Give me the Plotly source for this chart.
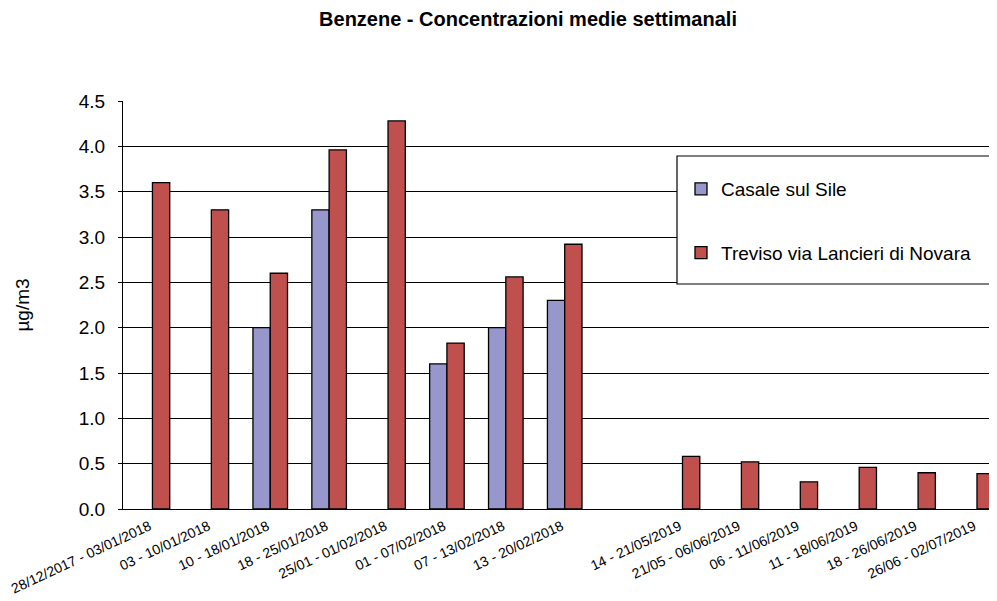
import plotly.graph_objects as go

categories = [
    "28/12/2017 - 03/01/2018", "03 - 10/01/2018", "10 - 18/01/2018",
    "18 - 25/01/2018", "25/01 - 01/02/2018", "01 - 07/02/2018",
    "07 - 13/02/2018", "13 - 20/02/2018", " ",
    "14 - 21/05/2019", "21/05 - 06/06/2019", "06 - 11/06/2019",
    "11 - 18/06/2019", "18 - 26/06/2019", "26/06 - 02/07/2019",
]
casale = [None, None, 2.0, 3.3, None, 1.6, 2.0, 2.3,
          None, None, None, None, None, None, None]
treviso = [3.6, 3.3, 2.6, 3.96, 4.28, 1.83, 2.56, 2.92,
           None, 0.58, 0.52, 0.30, 0.46, 0.40, 0.39]
series_names = ["Casale sul Sile", "Treviso via Lancieri di Novara"]
y_ticks = [0.0, 0.5, 1.0, 1.5, 2.0, 2.5, 3.0, 3.5, 4.0, 4.5]

FONT = "Liberation Sans, Arial, sans-serif"
OFF = 8  # page body margin
W, H = 997 - OFF, 601 - OFF
# plot area in page pixels: x 123..997, y 101..509
L, R, T, B = 123 - OFF, 0, 101 - OFF, (601 - OFF) - (509 - OFF)
pw, ph = W - L - R, H - T - B


def px_x(x):
    return (x - OFF - L) / pw


def px_y(y):
    return (H - B - (y - OFF)) / ph


fig = go.Figure()
fig.add_trace(go.Bar(
    x=categories, y=casale, name=series_names[0], legendgroup="a",
    marker=dict(color="#9797CB", line=dict(color="#000000", width=1.3)),
))
fig.add_trace(go.Bar(
    x=categories, y=treviso, name=series_names[1], legendgroup="b",
    marker=dict(color="#C0504D", line=dict(color="#000000", width=1.3)),
))

fig.update_layout(
    width=W, height=H,
    margin=dict(l=L, r=R, t=T, b=B, autoexpand=False),
    paper_bgcolor="white", plot_bgcolor="white",
    font=dict(family=FONT, color="black"),
    barmode="group", bargap=0.413, bargroupgap=0.0,
    title=dict(text="<b>Benzene - Concentrazioni medie settimanali</b>",
               x=(528 - OFF) / W, xanchor="center",
               y=1 - (19 - OFF) / H, yanchor="middle",
               font=dict(size=20, family=FONT, color="black")),
    showlegend=True,
    legend=dict(x=px_x(681), y=px_y(170), xanchor="left", yanchor="top",
                bgcolor="rgba(0,0,0,0)", borderwidth=0,
                font=dict(size=19, family=FONT, color="black"),
                traceorder="grouped", tracegroupgap=36),
    shapes=[dict(type="rect", xref="paper", yref="paper",
                 x0=px_x(677), x1=px_x(991), y0=px_y(284), y1=px_y(156),
                 fillcolor="white", line=dict(color="black", width=1.2),
                 layer="above")],
)
fig.update_xaxes(
    type="category", categoryorder="array", categoryarray=categories,
    range=[-0.5, 14.34],
    showline=True, linecolor="black", linewidth=1.2,
    showgrid=False, ticks="", tickangle=-25,
    tickfont=dict(size=14, family=FONT, color="black"),
    automargin=False, ticklabelstandoff=3, ticklabelshift=-3,
)
fig.update_yaxes(
    range=[0, 4.5], tickvals=y_ticks,
    ticktext=[f"{v:.1f}" for v in y_ticks],
    showline=True, linecolor="black", linewidth=1.2,
    showgrid=True, gridcolor="black", gridwidth=1,
    zeroline=False, ticks="outside", ticklen=4, tickcolor="black",
    ticklabelstandoff=9,
    tickfont=dict(size=19, family=FONT, color="black"),
    title=dict(text="µg/m3", standoff=44,
               font=dict(size=19, family=FONT, color="black")),
    automargin=False,
)

fig.write_html("out.html")
